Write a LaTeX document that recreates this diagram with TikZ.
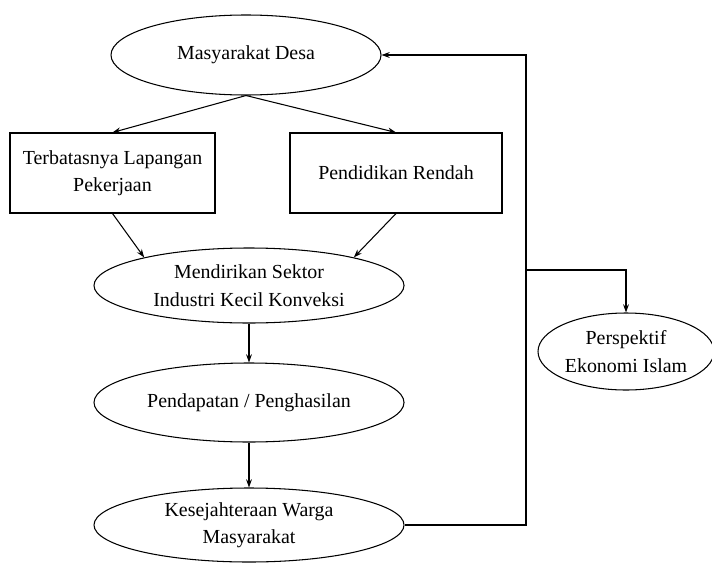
\documentclass[tikz,border=0pt]{standalone}
\usepackage{fontspec}
\setmainfont{Liberation Serif}
\usetikzlibrary{shapes.geometric,arrows.meta}
\begin{document}
\begin{tikzpicture}[x=0.03cm, y=-0.03cm,
  every node/.style={font=\fontsize{17}{23.5}\selectfont, align=center, inner sep=0pt},
  oval/.style={ellipse, draw, line width=0.9pt, minimum width=9.3cm, minimum height=2.3cm},
  kotak/.style={draw, line width=0.9pt, minimum height=2.4cm},
  panah/.style={-{Stealth[length=7pt,width=5pt]}, line width=0.9pt}]
\useasboundingbox (0,0) rectangle (712,563);
\node[oval,minimum width=8.1cm,minimum height=2.4cm] (md) at (246,55) {Masyarakat Desa};
\node[kotak,minimum width=6.15cm] (tl) at (112.5,173) {Terbatasnya Lapangan\\Pekerjaan};
\node[kotak,minimum width=6.36cm] (pr) at (396,173) {Pendidikan Rendah};
\node[oval,minimum height=2.25cm] (mk) at (249,285.5) {Mendirikan Sektor\\Industri Kecil Konveksi};
\node[oval,minimum height=2.37cm] (pd) at (249,402.5) {Pendapatan / Penghasilan};
\node[oval,minimum height=2.22cm] (ks) at (249,525) {Kesejahteraan Warga\\Masyarakat};
\node[oval,minimum width=5.28cm,minimum height=2.31cm] (pe) at (626,351.5) {Perspektif\\Ekonomi Islam};
\coordinate (fb) at (526,270);
\draw[panah] (md.south) -- (tl.north); \draw[panah] (md.south) -- (pr.north);
\draw[panah] (tl.south) -- (mk.165); \draw[panah] (pr.south) -- (mk.15);
\draw[panah] (mk.south) -- (pd.north); \draw[panah] (pd.south) -- (ks.north);
% umpan balik ke masyarakat desa
\draw[panah] (ks.east) -| (fb) |- (md.east);
\draw[panah] (fb) -| (pe.north);
\end{tikzpicture}
\end{document}
